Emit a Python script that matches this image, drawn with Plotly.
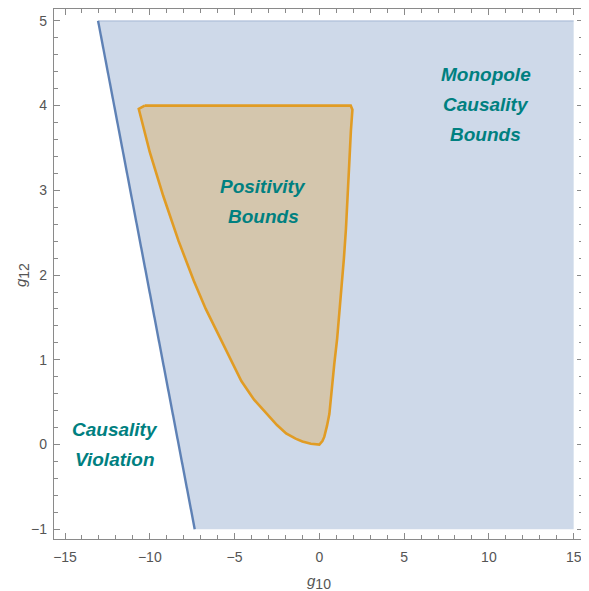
import plotly.graph_objects as go

# Monopole causality region (corners)
causal_x = [-13.05, 15.0, 15.0, -7.35]
causal_y = [5.0, 5.0, -1.0, -1.0]

# Positivity bounds region (boundary)
pos_x = [-10.3, 1.85, 1.95, 1.86, 1.76, 1.68, 1.57, 1.45, 1.30, 1.18, 1.05, 0.88, 0.75,
         0.59, 0.45, 0.29, 0.18, 0.05, 0.0,
         -0.5, -1.0, -1.4, -1.96, -2.5, -3.14, -3.85, -4.6, -5.3, -6.08, -6.7, -7.4,
         -8.3, -9.2, -10.0, -10.65, -10.3]
pos_y = [4.0, 4.0, 3.95, 3.7, 3.3, 2.95, 2.55, 2.2, 1.8, 1.5, 1.25, 0.95, 0.65,
         0.36, 0.22, 0.09, 0.04, 0.0, 0.0,
         0.01, 0.035, 0.07, 0.13, 0.23, 0.37, 0.53, 0.75, 1.03, 1.34, 1.6, 1.93,
         2.4, 2.93, 3.45, 3.96, 4.0]

x_ticks = [-15, -10, -5, 0, 5, 10, 15]
y_ticks = [-1, 0, 1, 2, 3, 4, 5]

BLUE = "#5e81b5"
ORANGE = "#e19c24"
TEAL = "#008080"
FONT = "Liberation Sans, Arial, sans-serif"
FRAME = "#8a8a8a"

fig = go.Figure()
fig.add_trace(go.Scatter(x=causal_x + [causal_x[0]], y=causal_y + [causal_y[0]],
                         mode="lines", fill="toself", fillcolor="rgba(94,129,181,0.3)",
                         line=dict(width=0), hoverinfo="skip", showlegend=False))
# top edge (faint)
fig.add_trace(go.Scatter(x=causal_x[0:2], y=causal_y[0:2], mode="lines",
                         line=dict(color="rgba(94,129,181,0.35)", width=1.2),
                         hoverinfo="skip", showlegend=False))
# causality boundary line
fig.add_trace(go.Scatter(x=[causal_x[0], causal_x[3]], y=[causal_y[0], causal_y[3]], mode="lines",
                         line=dict(color=BLUE, width=2.4), hoverinfo="skip", showlegend=False))
fig.add_trace(go.Scatter(x=pos_x, y=pos_y, mode="lines", fill="toself",
                         fillcolor="rgba(225,156,36,0.3)",
                         line=dict(color=ORANGE, width=2.6, shape="linear"),
                         hoverinfo="skip", showlegend=False))

lab_font = dict(family=FONT, size=19, color=TEAL)
def label(lines, x, y):
    n = len(lines)
    for i, t in enumerate(lines):
        fig.add_annotation(x=x, y=y, xref="x", yref="y", text="<b><i>%s</i></b>" % t,
                           showarrow=False, font=lab_font,
                           yshift=(n - 1) * 15 - i * 30, xanchor="center", yanchor="middle")

label(["Monopole", "Causality", "Bounds"], 9.8, 4.01)
label(["Positivity", "Bounds"], -3.3, 2.87)
label(["Causality", "Violation"], -12.06, 0.0)

# axis titles
title_font = dict(family=FONT, size=15, color="#555555")
fig.add_annotation(x=0, y=0, xref="x", yref="paper", yshift=-43, showarrow=False,
                   text="<i>g</i><sub><span style='font-size:14px'>10</span></sub>",
                   font=title_font, xanchor="center", yanchor="middle")
fig.add_annotation(x=0, y=2, xref="paper", yref="y", xshift=-32, showarrow=False,
                   text="<i>g</i><sub><span style='font-size:14px'>12</span></sub>",
                   font=title_font, textangle=-90, xanchor="center", yanchor="middle")

axis_common = dict(showgrid=False, zeroline=False, showline=True, linecolor=FRAME,
                   linewidth=1.3, mirror="ticks", ticks="inside", tickcolor=FRAME,
                   ticklen=6, tickwidth=1, automargin=False,
                   tickfont=dict(family=FONT, size=14, color="#555555"))

fig.update_xaxes(range=[-15.65, 15.55], tickvals=x_ticks, ticklabelstandoff=5,
                 minor=dict(dtick=1, ticks="inside", ticklen=3.5, tickcolor=FRAME, tickwidth=1),
                 **axis_common)
fig.update_yaxes(range=[-1.115, 5.14], tickvals=y_ticks, ticklabelstandoff=3,
                 minor=dict(dtick=0.2, ticks="inside", ticklen=3.5, tickcolor=FRAME, tickwidth=1),
                 **axis_common)

# page body has an 8px default margin; size figure so the plot area lands where the reference has it
fig.update_layout(width=581, height=583, margin=dict(l=46, r=6, t=1, b=52),
                  plot_bgcolor="white", paper_bgcolor="white", showlegend=False)

fig.write_html("out.html")
